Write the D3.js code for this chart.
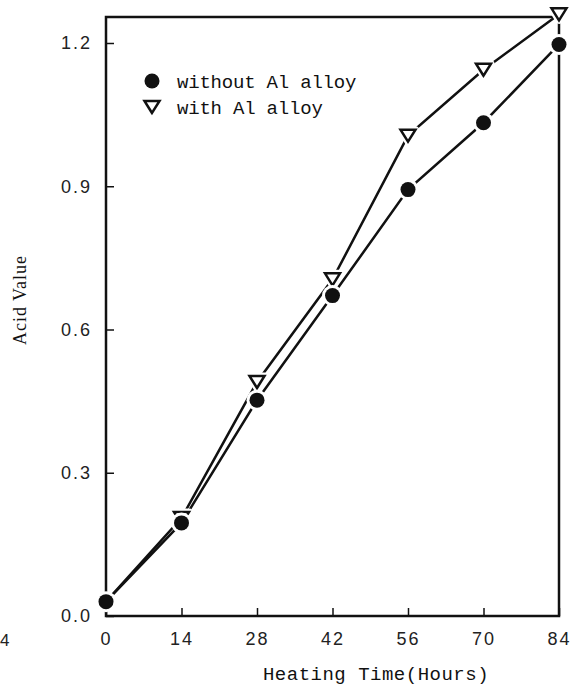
<!DOCTYPE html>
<html>
<head>
<meta charset="utf-8">
<script src="https://cdn.jsdelivr.net/npm/d3@7"></script>
<style>
  html, body { margin: 0; padding: 0; background: #fff; }
  svg { display: block; }
</style>
</head>
<body>
<svg id="chart" width="577" height="686"></svg>
<script>
// ---- data ----
const hours = [0, 14, 28, 42, 56, 70, 84];
const withoutAl = [0.03, 0.195, 0.452, 0.671, 0.893, 1.033, 1.197];
const withAl    = [0.03, 0.205, 0.49, 0.705, 1.006, 1.144, 1.26];
const xTicks = [0, 14, 28, 42, 56, 70, 84];
const yTicks = [0.0, 0.3, 0.6, 0.9, 1.2];
const seriesNames = ["without Al alloy", "with Al alloy"];
const xTitle = "Heating Time(Hours)";
const yTitle = "Acid Value";

const svg = d3.select("#chart");
const L = 106, R = 559, T = 17, B = 616;

const x = d3.scaleLinear().domain([0, 84]).range([L, R]);
const y = d3.scaleLinear().domain([0, 1.2]).range([B, 43]);

// fragment of the neighbouring figure's tick label at the left edge
svg.append("text").attr("x", 0).attr("y", 646)
  .style("font-family", "Liberation Sans, Arial, sans-serif").style("font-size", "17px")
  .attr("fill", "#222").text("4");

// axes (inward ticks)
const tickFont = "Liberation Sans, Arial, sans-serif";
const xAxis = d3.axisBottom(x).tickValues(xTicks).tickSizeInner(-8).tickSizeOuter(0).tickPadding(16)
  .tickFormat(d3.format("d"));
const gx = svg.append("g").attr("transform", `translate(0,${B})`).call(xAxis);
gx.select(".domain").remove();
gx.selectAll("line").attr("stroke", "#111").attr("stroke-width", 1.5);
gx.selectAll("text").attr("fill", "#222").style("font-family", tickFont)
  .style("font-size", "18px").style("letter-spacing", "2px");

const yAxis = d3.axisLeft(y).tickValues(yTicks).tickSizeInner(-8).tickSizeOuter(0).tickPadding(14)
  .tickFormat(d3.format(".1f"));
const gy = svg.append("g").attr("transform", `translate(${L},0)`).call(yAxis);
gy.select(".domain").remove();
gy.selectAll("line").attr("stroke", "#111").attr("stroke-width", 1.5);
gy.selectAll("text").attr("fill", "#222").style("font-family", tickFont)
  .style("font-size", "18px").style("letter-spacing", "2px");

// frame
svg.append("rect").attr("x", L).attr("y", T).attr("width", R - L).attr("height", B - T)
  .attr("fill", "none").attr("stroke", "#111").attr("stroke-width", 2.5);

// lines
const line = d3.line().x((d, i) => x(hours[i])).y(d => y(d));
[withAl, withoutAl].forEach(s => {
  svg.append("path").datum(s).attr("d", line)
    .attr("fill", "none").attr("stroke", "#111").attr("stroke-width", 2.5);
});

// marker shapes
const triPath = "M0,6 L-7.5,-6 L7.5,-6 Z";
function drawCircle(g, cx, cy, halo) {
  if (halo) g.append("circle").attr("cx", cx).attr("cy", cy).attr("r", 10.5).attr("fill", "#fff");
  g.append("circle").attr("cx", cx).attr("cy", cy).attr("r", 7.5).attr("fill", "#111");
}
function drawTri(g, cx, cy, halo) {
  if (halo) g.append("path").attr("d", triPath).attr("transform", `translate(${cx},${cy})`)
    .attr("fill", "#fff").attr("stroke", "#fff").attr("stroke-width", 7).attr("stroke-linejoin", "round");
  g.append("path").attr("d", triPath).attr("transform", `translate(${cx},${cy})`)
    .attr("fill", "#fff").attr("stroke", "#111").attr("stroke-width", 2.5).attr("stroke-linejoin", "miter");
}

const gm = svg.append("g");
withAl.forEach((v, i) => { if (i > 0) drawTri(gm, x(hours[i]), y(v), true); });
withoutAl.forEach((v, i) => drawCircle(gm, x(hours[i]), y(v), true));

// legend
const legFont = "Liberation Mono, Courier New, monospace";
const lg = svg.append("g");
drawCircle(lg, 152, 81, false);
drawTri(lg, 152, 107, false);
lg.append("text").attr("x", 177).attr("y", 88).text(seriesNames[0]);
lg.append("text").attr("x", 177).attr("y", 114).text(seriesNames[1]);
lg.selectAll("text").attr("fill", "#111").style("font-family", legFont)
  .style("font-size", "19px").style("letter-spacing", "-0.2px");

// axis titles
svg.append("text").attr("x", 376).attr("y", 680).attr("text-anchor", "middle")
  .attr("fill", "#111").style("font-family", legFont).style("font-size", "19px")
  .style("letter-spacing", "0.5px").text(xTitle);
svg.append("text").attr("transform", "translate(26,300) rotate(-90)").attr("text-anchor", "middle")
  .attr("fill", "#111").style("font-family", "Liberation Serif, Times New Roman, serif")
  .style("font-size", "18px").style("letter-spacing", "1px").text(yTitle);
</script>
</body>
</html>
